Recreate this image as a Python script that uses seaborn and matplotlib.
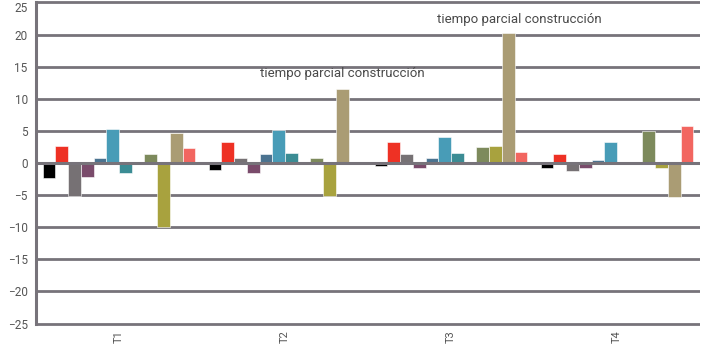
import numpy as np
import pandas as pd
import matplotlib
matplotlib.use("Agg")
import matplotlib.pyplot as plt
import seaborn as sns

# periods on the x axis
periods = ["T1", "T2", "T3", "T4"]

# one list of values per series (T1..T4)
series_names = ["s01", "s02", "s03", "s04", "s05", "s06",
                "s07", "s08", "s09", "s10", "s11", "s12"]
s01 = [-2.4, -1.1, -0.4, -0.8]
s02 = [2.7, 3.3, 3.3, 1.4]
s03 = [-5.1, 0.8, 1.4, -1.2]
s04 = [-2.2, -1.6, -0.8, -0.8]
s05 = [0.8, 1.4, 0.8, 0.5]
s06 = [5.3, 5.1, 4.0, 3.3]
s07 = [-1.6, 1.6, 1.6, 0.0]
s08 = [0.0, 0.0, 0.0, -0.2]
s09 = [1.4, 0.8, 2.5, 5.0]
s10 = [-10.0, -5.1, 2.7, -0.8]
s11 = [4.7, 11.5, 20.3, -5.3]
s12 = [2.4, 0.0, 1.7, 5.7]

colors = ["#000000", "#ee3124", "#767174", "#7a4b6b", "#4b7390", "#489cb7",
          "#3b8c94", "#5ba6b0", "#7d8a5c", "#a8a23e", "#aa9c74", "#f26660"]

note = "tiempo parcial construcción"
note_pos = [(1.345, 13.9), (2.41, 22.3)]

values = [s01, s02, s03, s04, s05, s06, s07, s08, s09, s10, s11, s12]
rows = []
for name, vals in zip(series_names, values):
    for p, v in zip(periods, vals):
        rows.append({"periodo": p, "serie": name, "valor": v})
df = pd.DataFrame(rows)

sns.set_style("white")
plt.rcParams["font.family"] = ["Roboto", "DejaVu Sans"]

grid_color = "#77737a"

fig = plt.figure(figsize=(7.02, 3.55), dpi=100)
ax = fig.add_axes([36 / 702, 0.083, 664 / 702, 0.9155])

sns.barplot(data=df, x="periodo", y="valor", hue="serie", order=periods,
            hue_order=series_names, palette=colors, width=0.92, saturation=1,
            edgecolor="white", linewidth=0.4, legend=False, ax=ax, zorder=3)

ax.set_ylim(-25.3, 25.3)
ax.set_yticks(np.arange(-25, 26, 5))
ax.yaxis.grid(True, color=grid_color, linewidth=2.0, zorder=1)
ax.set_axisbelow(True)
ax.axhline(0, color=grid_color, linewidth=2.2, zorder=5)

for side in ["top", "right", "bottom"]:
    ax.spines[side].set_visible(False)
ax.spines["left"].set_color(grid_color)
ax.spines["left"].set_linewidth(2.2)
ax.spines["left"].set_bounds(-25, 25)

ax.tick_params(axis="both", length=0, colors="#555555", labelsize=8.5)
ax.tick_params(axis="y", pad=6)
plt.setp(ax.get_xticklabels(), rotation=90, fontsize=8)
# top label would be cut at the figure edge
ax.get_yticklabels()[-1].set_va("top")
ax.set_xlabel("")
ax.set_ylabel("")

for x, y in note_pos:
    ax.text(x, y, note, ha="center", va="center", fontsize=9.5,
            color="#4a4a4a", zorder=6)

fig.savefig("out.png", dpi=100)
